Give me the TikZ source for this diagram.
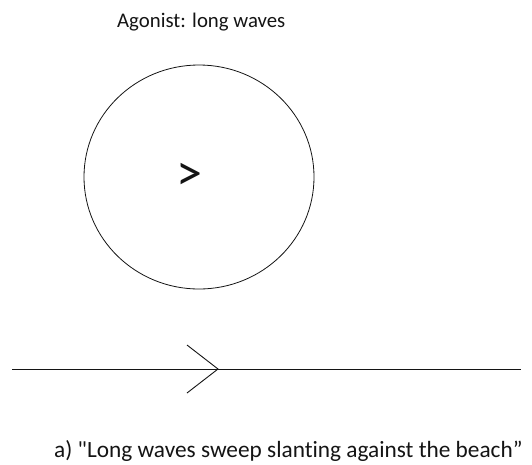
\documentclass[tikz,border=0pt]{standalone}
\usepackage{fontspec}
\setmainfont{Carlito}[Ligatures={NoCommon}]
\usepackage{xcolor}
\usepackage{tikz}
\usetikzlibrary{positioning,calc,shapes.geometric}
\definecolor{inkgray}{RGB}{20,20,20}
\tikzset{
  wavecirc/.style={ellipse, draw=inkgray, line width=0.8pt, minimum width=230pt,
                   minimum height=224pt, inner sep=0pt},
  sign/.style={font=\fontsize{52}{52}\selectfont, text=inkgray, inner sep=0pt},
  headlbl/.style={font=\fontsize{20.8}{24}\selectfont, text=inkgray, anchor=base west, inner sep=0pt},
  caplbl/.style={font=\fontsize{23.3}{28}\selectfont, text=inkgray, anchor=base west, inner sep=0pt},
  shore/.style={line width=1pt, inkgray},
  chev/.style={line width=0.9pt, inkgray}
}

\begin{document}
\begin{tikzpicture}[x=1pt, y=-1pt]
\useasboundingbox (0,0) rectangle (532,464);
\node (head) [headlbl] at (117,27) {Agonist: long waves};
\node (wave) [wavecirc] at (199,177) {};
\node (dir) [sign] at (189,177) {>};
\coordinate (west) at (12,369);
\coordinate (east) at (521,369);
\coordinate (tip) at (218,369);
\draw[shore] (west) -- (east);
\draw[chev] ($(tip)+(-31,-24)$) -- (tip) -- ($(tip)+(-31,24)$);
\node (cap) [caplbl] at (54,457) {a) \textquotedbl Long waves sweep slanting against the beach”};
\end{tikzpicture}
\end{document}
